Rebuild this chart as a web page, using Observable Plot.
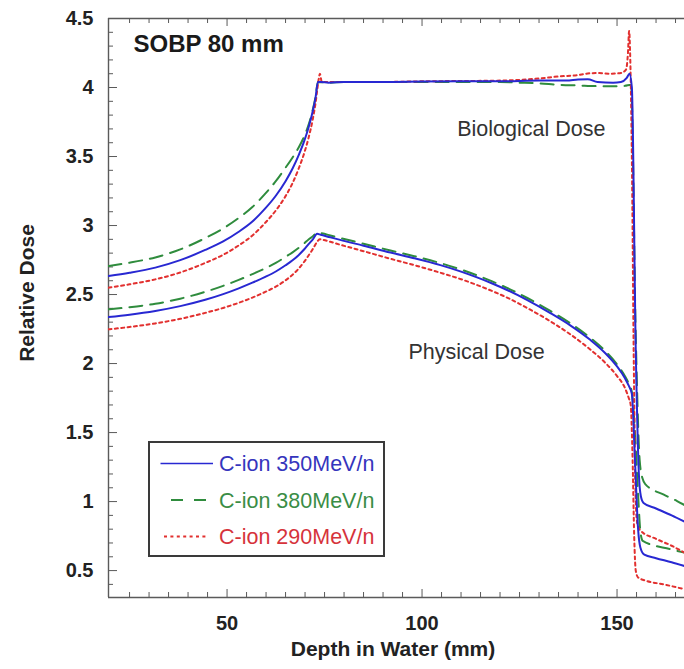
<!DOCTYPE html>
<html>
<head>
<meta charset="utf-8">
<script src="https://cdn.jsdelivr.net/npm/d3@7"></script>
<script src="https://cdn.jsdelivr.net/npm/@observablehq/plot@0.6"></script>
<style>
  body { margin: 0; background: #fff; }
  #wrap { position: relative; width: 684px; height: 669px; font-family: "Liberation Sans", Arial, Helvetica, sans-serif; }
  #wrap svg.plot { position: absolute; left: 0; top: 0; }
  #legend { position: absolute; left: 148px; top: 441px; }
</style>
</head>
<body>
<div id="wrap"></div>
<script>
// ---------- data ----------
const seriesLabels = ["C-ion 350MeV/n", "C-ion 380MeV/n", "C-ion 290MeV/n"];
const doseLabels = ["Biological Dose", "Physical Dose"];
const titleLabel = "SOBP 80 mm";

const xMajor = [50, 100, 150];
const xMinor = [25, 30, 35, 40, 45, 55, 60, 65, 70, 75, 80, 85, 90, 95, 105, 110, 115, 120, 125, 130, 135, 140, 145, 155, 160, 165];
const yMajor = [0.5, 1, 1.5, 2, 2.5, 3, 3.5, 4, 4.5];
const yMinor = [0.4, 0.6, 0.7, 0.8, 0.9, 1.1, 1.2, 1.3, 1.4, 1.6, 1.7, 1.8, 1.9, 2.1, 2.2, 2.3, 2.4, 2.6, 2.7, 2.8, 2.9, 3.1, 3.2, 3.3, 3.4, 3.6, 3.7, 3.8, 3.9, 4.1, 4.2, 4.3, 4.4];

// C-ion 350 MeV/n
const bio350Depth = [19.6, 25, 31.6, 38, 44.4, 49, 53, 56.5, 59.8, 62.5, 65, 66.8, 68.4, 69.8, 70.9, 72, 72.7, 73.3, 74, 76, 80, 90, 100, 110, 120, 130, 137, 140, 142.5, 145, 149, 151, 152.5, 153.2, 153.8, 154.8, 155.6, 156.1, 156.8, 160, 164, 167.3];
const bio350Dose  = [2.634, 2.658, 2.695, 2.749, 2.823, 2.885, 2.955, 3.029, 3.124, 3.216, 3.321, 3.413, 3.512, 3.613, 3.710, 3.831, 3.929, 4.04, 4.04, 4.035, 4.04, 4.04, 4.043, 4.045, 4.045, 4.05, 4.05, 4.058, 4.06, 4.04, 4.035, 4.04, 4.07, 4.10, 4.0, 2.1, 1.2, 1.04, 0.99, 0.95, 0.90, 0.855];
const phys350Depth = [19.6, 25, 31.6, 38, 44.4, 49, 53, 56.5, 59.8, 62.5, 65, 66.8, 68.4, 69.8, 70.9, 72, 73.1, 74, 76.5, 79, 85, 91.9, 98, 104.7, 110, 114.1, 118, 121.8, 127, 132.9, 138, 143.2, 147, 150, 152, 153, 153.8, 154.6, 155.4, 156, 157, 160, 164, 167.3];
const phys350Dose  = [2.337, 2.354, 2.381, 2.416, 2.462, 2.503, 2.545, 2.586, 2.628, 2.667, 2.712, 2.748, 2.787, 2.828, 2.865, 2.900, 2.94, 2.933, 2.915, 2.896, 2.854, 2.804, 2.763, 2.713, 2.666, 2.624, 2.580, 2.533, 2.460, 2.366, 2.277, 2.170, 2.075, 1.979, 1.895, 1.84, 1.78, 1.3, 0.8, 0.665, 0.615, 0.59, 0.56, 0.533];

// C-ion 380 MeV/n
const bio380Depth = [19.6, 25, 31.6, 38, 44.4, 49, 53, 56.5, 59.8, 62.5, 65, 66.8, 68.4, 69.8, 70.9, 72, 72.7, 73.3, 76, 80, 90, 100, 110, 120, 125, 130, 135, 140, 145, 150, 152, 153.6, 154.8, 155.8, 156.5, 157.3, 162, 165.4, 167.3];
const bio380Dose  = [2.707, 2.731, 2.769, 2.827, 2.909, 2.979, 3.055, 3.134, 3.231, 3.321, 3.419, 3.493, 3.567, 3.648, 3.730, 3.841, 3.934, 4.04, 4.035, 4.04, 4.04, 4.04, 4.04, 4.04, 4.035, 4.03, 4.02, 4.015, 4.01, 4.01, 4.012, 4.02, 2.2, 1.3, 1.17, 1.125, 1.05, 1.004, 0.975];
const phys380Depth = [19.6, 25, 31.6, 38, 44.4, 49, 53, 56.5, 59.8, 62.5, 65, 66.8, 68.4, 69.8, 70.9, 72, 73.1, 74, 76.5, 79, 85, 91.9, 98, 104.7, 110, 114.1, 118, 121.8, 127, 132.9, 138, 143.2, 147, 150, 152, 153, 153.8, 154.6, 155.4, 156, 156.6, 163.7, 167.3];
const phys380Dose  = [2.393, 2.408, 2.433, 2.470, 2.520, 2.563, 2.606, 2.648, 2.690, 2.729, 2.773, 2.806, 2.839, 2.871, 2.899, 2.922, 2.95, 2.945, 2.928, 2.91, 2.868, 2.819, 2.778, 2.728, 2.681, 2.639, 2.595, 2.548, 2.475, 2.381, 2.292, 2.185, 2.09, 1.994, 1.91, 1.855, 1.795, 1.5, 1.05, 0.78, 0.715, 0.655, 0.63];

// C-ion 290 MeV/n
const bio290Depth = [19.6, 25, 31.6, 38, 44.4, 49, 53, 56.5, 59.8, 62.5, 65, 66.8, 68.4, 69.8, 70.9, 72, 72.7, 73.5, 73.8, 74.3, 80, 90, 100, 110, 120, 125, 130, 135, 140, 142, 145, 148, 151, 152.3, 152.8, 153.1, 153.4, 153.8, 154.3, 154.8, 155.2, 156, 160, 164, 167.3];
const bio290Dose  = [2.550, 2.574, 2.610, 2.660, 2.729, 2.788, 2.856, 2.928, 3.020, 3.109, 3.213, 3.308, 3.415, 3.526, 3.635, 3.773, 3.889, 4.06, 4.10, 4.04, 4.04, 4.04, 4.045, 4.047, 4.05, 4.055, 4.065, 4.08, 4.09, 4.10, 4.105, 4.10, 4.105, 4.13, 4.25, 4.41, 4.2, 3.5, 2.0, 1.0, 0.84, 0.79, 0.73, 0.68, 0.63];
const phys290Depth = [19.6, 25, 31.6, 38, 44.4, 49, 53, 56.5, 59.8, 62.5, 65, 66.8, 68.4, 69.8, 70.9, 72, 73.3, 73.8, 74.8, 76.5, 79, 85, 91.9, 98, 104.7, 110, 114.1, 118, 121.8, 127, 132.9, 138, 143.2, 147, 150, 152, 153, 153.5, 154.0, 154.4, 154.8, 155.4, 157, 162, 167.3];
const phys290Dose  = [2.248, 2.265, 2.291, 2.324, 2.367, 2.403, 2.440, 2.478, 2.519, 2.557, 2.603, 2.643, 2.689, 2.738, 2.783, 2.830, 2.89, 2.90, 2.895, 2.882, 2.861, 2.814, 2.759, 2.713, 2.658, 2.611, 2.569, 2.525, 2.478, 2.402, 2.306, 2.212, 2.10, 2.005, 1.909, 1.825, 1.75, 1.70, 1.3, 0.75, 0.5, 0.45, 0.43, 0.40, 0.365];

// annotation anchors (data coordinates)
const bioLabelAt = [109.0, 3.70];
const physLabelAt = [96.5, 2.085];

// ---------- styles ----------
const W = 684, H = 669, mL = 108, mR = 0, mT = 18, mB = 72;
const innerW = W - mL - mR, innerH = H - mT - mB;
const xDomain = [19.6, 167.3];
const yDomain = [0.305, 4.5];
const frameColor = "#5a5a5a";
const seriesStyle = [
  {stroke: "#2828d2", dash: null, text: "#3535bd"},
  {stroke: "#2f8c3d", dash: "13,8", text: "#3a8d46"},
  {stroke: "#e2302f", dash: "3,3.4", text: "#d6333b"}
];
const font = "'Liberation Sans', Arial, Helvetica, sans-serif";

function rows(depth, dose) { return depth.map((d, i) => ({depth: d, dose: dose[i]})); }

const curves = [
  {data: rows(bio380Depth, bio380Dose), s: seriesStyle[1]},
  {data: rows(phys380Depth, phys380Dose), s: seriesStyle[1]},
  {data: rows(bio290Depth, bio290Dose), s: seriesStyle[2]},
  {data: rows(phys290Depth, phys290Dose), s: seriesStyle[2]},
  {data: rows(bio350Depth, bio350Dose), s: seriesStyle[0]},
  {data: rows(phys350Depth, phys350Dose), s: seriesStyle[0]}
];

const plot = Plot.plot({
  width: W, height: H,
  marginLeft: mL, marginRight: mR, marginTop: mT, marginBottom: mB,
  x: {domain: xDomain},
  y: {domain: yDomain},
  style: {fontFamily: font, background: "#fff", color: "#222"},
  marks: [
    // frame (left, bottom, top)
    Plot.ruleX([xDomain[0]], {stroke: frameColor, strokeWidth: 1.4}),
    Plot.ruleY(yDomain, {stroke: frameColor, strokeWidth: 1.4}),
    // inward ticks: bottom & top
    Plot.tickX(xMinor, {x: d => d, insetTop: innerH - 5, stroke: frameColor}),
    Plot.tickX(xMajor, {x: d => d, insetTop: innerH - 8, stroke: frameColor}),
    Plot.tickX(xMinor, {x: d => d, insetBottom: innerH - 5, stroke: frameColor}),
    Plot.tickX(xMajor, {x: d => d, insetBottom: innerH - 8, stroke: frameColor}),
    // inward ticks: left
    Plot.tickY(yMinor, {y: d => d, insetRight: innerW - 5, stroke: frameColor}),
    Plot.tickY(yMajor, {y: d => d, insetRight: innerW - 9, stroke: frameColor}),
    // tick labels
    Plot.axisX(xMajor, {tickSize: 0, tickPadding: 18, fontSize: 20, fontWeight: "bold", fill: "#222", label: null, tickFormat: d => String(d)}),
    Plot.axisY(yMajor, {tickSize: 0, tickPadding: 15, fontSize: 20, fontWeight: "bold", fill: "#222", label: null, tickFormat: d => String(d)}),
    // curves
    ...curves.map(c => Plot.line(c.data, {
      x: "depth", y: "dose", stroke: c.s.stroke, strokeWidth: 2,
      strokeDasharray: c.s.dash, curve: "monotone-x", clip: true
    })),
    // axis titles
    Plot.text(["Depth in Water (mm)"], {frameAnchor: "bottom", lineAnchor: "middle", dx: -3.5, dy: 52, fontSize: 21, fontWeight: "bold", fill: "#222"}),
    Plot.text(["Relative Dose"], {frameAnchor: "left", textAnchor: "middle", lineAnchor: "middle", rotate: -90, dx: -81.7, dy: -15, fontSize: 21, fontWeight: "bold", fill: "#222"}),
    // annotations
    Plot.text([titleLabel], {frameAnchor: "top-left", lineAnchor: "middle", dx: 25, dy: 26, textAnchor: "start", fontSize: 24, fontWeight: "bold", fill: "#1a1a1a"}),
    Plot.text([doseLabels[0]], {x: () => bioLabelAt[0], y: () => bioLabelAt[1], textAnchor: "start", fontSize: 21.5, fill: "#333"}),
    Plot.text([doseLabels[1]], {x: () => physLabelAt[0], y: () => physLabelAt[1], textAnchor: "start", fontSize: 21.5, fill: "#333"})
  ]
});
plot.classList.add("plot");
document.getElementById("wrap").appendChild(plot);

// ---------- legend (overlay inside the plot area) ----------
const lg = d3.select("#wrap").append("svg")
  .attr("id", "legend")
  .attr("width", 238).attr("height", 117)
  .style("font-family", font);
lg.append("rect").attr("x", 1).attr("y", 1).attr("width", 235).attr("height", 114)
  .attr("fill", "#fff").attr("stroke", "#3a3a3a").attr("stroke-width", 2);
const rowY = [22.5, 59, 95.5];
const sampleX = [[12.5, 65], [23, 62], [16, 60]];
seriesLabels.forEach((lab, i) => {
  const s = seriesStyle[i];
  lg.append("line")
    .attr("x1", sampleX[i][0]).attr("x2", sampleX[i][1])
    .attr("y1", rowY[i]).attr("y2", rowY[i])
    .attr("stroke", s.stroke).attr("stroke-width", i === 0 ? 1.6 : 1.8)
    .attr("stroke-dasharray", i === 1 ? "12,11" : s.dash);
  lg.append("text")
    .attr("x", 71).attr("y", rowY[i]).attr("dy", "0.35em")
    .attr("font-size", 21.5).attr("fill", s.text)
    .text(lab);
});
</script>
</body>
</html>
